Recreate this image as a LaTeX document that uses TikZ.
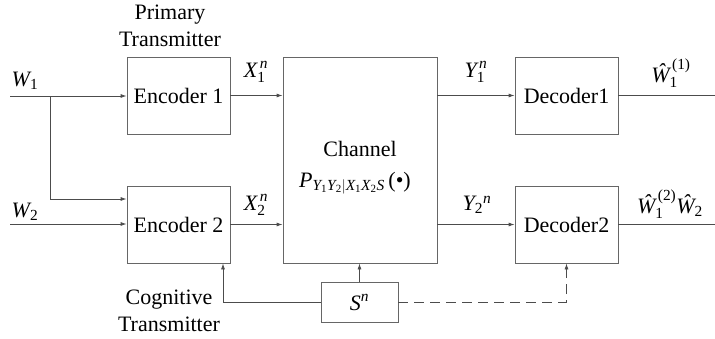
\documentclass[tikz,border=0pt]{standalone}
\usepackage{amsmath}
\usepackage{fontspec}
\setmainfont{LiberationSerif}[Extension=.ttf, UprightFont=*-Regular, ItalicFont=*-Italic, BoldFont=*-Bold, BoldItalicFont=*-BoldItalic]
\usetikzlibrary{arrows.meta}
\newcommand{\vi}[1]{\textit{#1}}
\newcommand{\vr}[1]{\textrm{#1}}
\begin{document}
\begin{tikzpicture}[x=1pt,y=-1pt,
  every node/.style={font=\fontsize{22}{27}\selectfont, inner sep=0pt},
  blk/.style={draw=black!60, line width=0.8pt, minimum width=103pt, minimum height=77pt},
  conn/.style={draw=black!70, line width=0.8pt, -{Latex[length=6pt,width=4pt]}},
  plain/.style={draw=black!70, line width=0.8pt},
  lbl/.style={anchor=center}]
\useasboundingbox (0,0) rectangle (715,338);
% blocks
\node[blk] (enc1) at (178.5,95.5) {Encoder 1};
\node[blk] (enc2) at (178.5,224.5) {Encoder 2};
\node[draw=black!60, line width=0.8pt, minimum width=154pt, minimum height=206pt] (chan) at (360,160) {};
\node[blk] (dec1) at (566.5,95.5) {Decoder1};
\node[blk] (dec2) at (566.5,224.5) {Decoder2};
\node[draw=black!60, line width=0.8pt, minimum width=77pt, minimum height=40pt] (S) at (359.5,302) {$\vi{S}^{\vi{n}}$};
% channel text
\node (chtxt) at (360,149) {Channel};
\node (ptxt) at (355,183) {$\vi{P}_{\vi{Y}_{\vr{1}}\vi{Y}_{\vr{2}}|\vi{X}_{\vr{1}}\vi{X}_{\vr{2}}\vi{S}}$\,(\textbullet)};
% coordinates
\coordinate (w1in) at (10,96);
\coordinate (w2in) at (10,224);
\coordinate (br) at (50,96);
\coordinate (br2) at (50,199);
\coordinate (out1) at (715,96);
\coordinate (out2) at (715,224);
\coordinate (sx) at (223,0);
% connectors
\draw[conn] (w1in) -- (w1in -| enc1.west);
\draw[conn] (br) -- (br2) -- (br2 -| enc2.west);
\draw[conn] (w2in) -- (w2in -| enc2.west);
\draw[conn] (enc1.east) -- (enc1.east -| chan.west);
\draw[conn] (enc2.east) -- (enc2.east -| chan.west);
\draw[conn] (chan.east |- dec1.west) -- (dec1.west);
\draw[conn] (chan.east |- dec2.west) -- (dec2.west);
\draw[plain] (dec1.east) -- (dec1.east -| out1);
\draw[plain] (dec2.east) -- (dec2.east -| out2);
\draw[conn] (S.north) -- (S.north |- chan.south);
\draw[conn] (S.west) -| (sx |- enc2.south);
\draw[conn, dash pattern=on 10pt off 6pt] (S.east) -| (dec2.south);
% labels
\node[align=center] (ptx) at (170,26) {Primary\\Transmitter};
\node[align=center] (ctx) at (169,311) {Cognitive\\Transmitter};
\node[lbl] (lw1) at (25,81) {$\vi{W}_{\vr{1}}$};
\node[lbl] (lw2) at (25,212) {$\vi{W}_{\vr{2}}$};
\node[lbl] (lx1) at (256,72) {$\vi{X}_{\vr{1}}^{\,\vi{n}}$};
\node[lbl] (lx2) at (256,205) {$\vi{X}_{\vr{2}}^{\,\vi{n}}$};
\node[lbl] (ly1) at (476,72) {$\vi{Y}_{\vr{1}}^{\,\vi{n}}$};
\node[lbl] (ly2) at (477,205) {$\vi{Y}_{\vr{2}}{}^{\vi{n}}$};
\node[lbl] (lo1) at (671,73) {$\vi{Ŵ}_{\vr{1}}^{\,\vr{(1)}}$};
\node[lbl] (lo2) at (670,204) {$\vi{Ŵ}_{\vr{1}}^{\,\vr{(2)}}\vi{Ŵ}_{\vr{2}}$};
\end{tikzpicture}
\end{document}
